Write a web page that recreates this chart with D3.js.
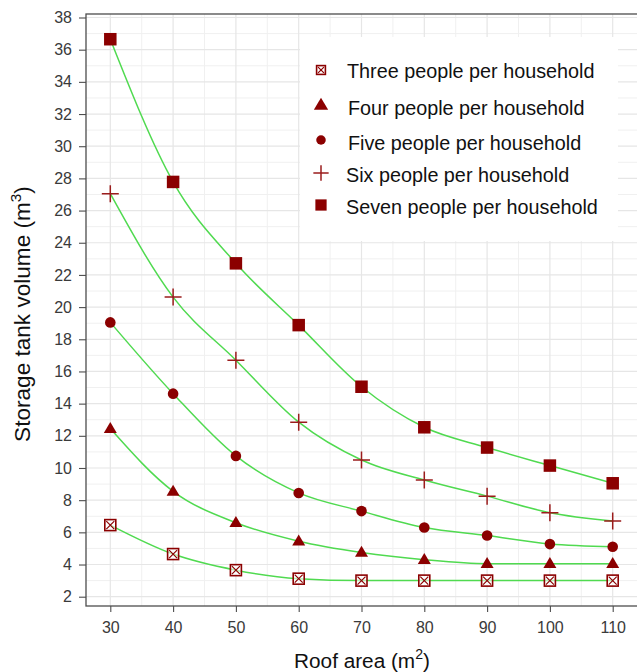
<!DOCTYPE html>
<html>
<head>
<meta charset="utf-8">
<script src="https://cdn.jsdelivr.net/npm/d3@7"></script>
<style>
html,body{margin:0;padding:0;background:#fff;}
svg{display:block;}
text{font-family:"Liberation Sans", Arial, sans-serif;}
</style>
</head>
<body>
<svg id="chart" width="637" height="672"></svg>
<script>
// ---- data ----
const roofArea = [30, 40, 50, 60, 70, 80, 90, 100, 110];
const seriesNames = [
  "Three people per household",
  "Four people per household",
  "Five people per household",
  "Six people per household",
  "Seven people per household"
];
const threePeople = [6.45, 4.65, 3.65, 3.12, 3.0, 3.0, 3.0, 3.0, 3.0];
const fourPeople  = [12.45, 8.55, 6.6, 5.45, 4.75, 4.3, 4.05, 4.05, 4.05];
const fivePeople  = [19.05, 14.62, 10.75, 8.45, 7.32, 6.3, 5.8, 5.27, 5.1];
const sixPeople   = [27.05, 20.62, 16.7, 12.85, 10.5, 9.25, 8.25, 7.22, 6.7];
const sevenPeople = [36.65, 27.78, 22.72, 18.88, 15.05, 12.53, 11.27, 10.15, 9.05];
const xTicks = [30, 40, 50, 60, 70, 80, 90, 100, 110];
const yTicks = [2,4,6,8,10,12,14,16,18,20,22,24,26,28,30,32,34,36,38];

const seriesValues = [threePeople, fourPeople, fivePeople, sixPeople, sevenPeople];
const shapes = ["squareX", "triangle", "circle", "plus", "square"];

(function () {
// ---- layout ----
const svg = d3.select("#chart");
const pL = 86, pT = 14, pB = 606, pR = 640;
const x = d3.scaleLinear().domain([30, 110]).range([110.3, 612.7]);
const y = d3.scaleLinear().domain([2, 38]).range([596.7, 17.5]);

const red = "#8b0000";
const green = "#50da50";

// grid
const g = svg.append("g");
const xMinor = d3.range(25, 120, 10);
const yMinor = d3.range(1, 40, 2);
g.selectAll(".xm").data(xMinor.filter(v => x(v) > pL && x(v) < pR)).enter().append("line")
  .attr("x1", d => x(d)).attr("x2", d => x(d)).attr("y1", pT).attr("y2", pB)
  .attr("stroke", "#f0f0f0").attr("stroke-width", 1);
g.selectAll(".ym").data(yMinor.filter(v => y(v) > pT && y(v) < pB)).enter().append("line")
  .attr("y1", d => y(d)).attr("y2", d => y(d)).attr("x1", pL).attr("x2", pR)
  .attr("stroke", "#f0f0f0").attr("stroke-width", 1);
g.selectAll(".xM").data(xTicks).enter().append("line")
  .attr("x1", d => x(d)).attr("x2", d => x(d)).attr("y1", pT).attr("y2", pB)
  .attr("stroke", "#e6e6e6").attr("stroke-width", 1.2);
g.selectAll(".yM").data(yTicks).enter().append("line")
  .attr("y1", d => y(d)).attr("y2", d => y(d)).attr("x1", pL).attr("x2", pR)
  .attr("stroke", "#e6e6e6").attr("stroke-width", 1.2);

// axes
const xAxis = d3.axisBottom(x).tickValues(xTicks).tickSize(6).tickPadding(10).tickFormat(d3.format("d"));
const yAxis = d3.axisLeft(y).tickValues(yTicks).tickSize(7).tickPadding(7).tickFormat(d3.format("d"));
const xa = svg.append("g").attr("transform", `translate(0,${pB})`).call(xAxis);
const ya = svg.append("g").attr("transform", `translate(${pL},0)`).call(yAxis);
[xa, ya].forEach(a => {
  a.select(".domain").remove();
  a.selectAll(".tick line").attr("stroke", "#4d4d4d").attr("stroke-width", 1.1);
  a.selectAll(".tick text").attr("fill", "#3a3a3a").style("font-size", "16px")
    .style("font-family", "'Liberation Sans', Arial, sans-serif");
});

// panel border
svg.append("rect").attr("x", pL).attr("y", pT).attr("width", pR + 10 - pL).attr("height", pB - pT)
  .attr("fill", "none").attr("stroke", "#4d4d4d").attr("stroke-width", 1.3);

// marker drawing
function drawMarker(sel, shape, cx, cy, s) {
  const k = s || 1;
  if (shape === "square") {
    const w = 12.5 * k;
    sel.append("rect").attr("x", cx - w/2).attr("y", cy - w/2).attr("width", w).attr("height", w).attr("fill", red);
  } else if (shape === "squareX") {
    const w = 11 * k;
    sel.append("rect").attr("x", cx - w/2).attr("y", cy - w/2).attr("width", w).attr("height", w)
      .attr("fill", "#fff").attr("fill-opacity", 0.6).attr("stroke", red).attr("stroke-width", 1.6);
    const h = w/2 - 1.5;
    sel.append("path").attr("d", `M${cx-h},${cy-h}L${cx+h},${cy+h}M${cx-h},${cy+h}L${cx+h},${cy-h}`)
      .attr("stroke", red).attr("stroke-width", 1.2).attr("fill", "none");
  } else if (shape === "triangle") {
    const w = 13 * k, hgt = 11 * k;
    sel.append("path").attr("d", `M${cx},${cy - hgt*0.6}L${cx + w/2},${cy + hgt*0.4}L${cx - w/2},${cy + hgt*0.4}Z`).attr("fill", red);
  } else if (shape === "circle") {
    sel.append("circle").attr("cx", cx).attr("cy", cy).attr("r", 5.3 * k).attr("fill", red);
  } else if (shape === "plus") {
    const a = 8.5 * k;
    sel.append("path").attr("d", `M${cx-a},${cy}L${cx+a},${cy}M${cx},${cy-a}L${cx},${cy+a}`)
      .attr("stroke", "#9b1c1c").attr("stroke-width", 1.5).attr("fill", "none");
  }
}

// lines and points
const line = d3.line().x(d => x(d[0])).y(d => y(d[1])).curve(d3.curveMonotoneX);
const plot = svg.append("g");
seriesValues.forEach((vals, i) => {
  const pts = roofArea.map((a, j) => [a, vals[j]]);
  plot.append("path").datum(pts).attr("d", line).attr("fill", "none")
    .attr("stroke", green).attr("stroke-width", 1.5);
});
seriesValues.forEach((vals, i) => {
  const gp = plot.append("g");
  roofArea.forEach((a, j) => drawMarker(gp, shapes[i], x(a), y(vals[j]), 1));
});

// fit a text element's font size so its width matches a target
function fitSize(textSel, base, target) {
  const w = textSel.node().getBBox().width;
  return w > 0 ? base * target / w : base;
}

// legend
const lg = svg.append("g");
lg.append("rect").attr("x", 300).attr("y", 37).attr("width", 318).attr("height", 204).attr("fill", "#fff");
const keyY = [70, 105, 140, 173, 205];
const textY = [71, 108, 143, 175, 207];
const textX = [347, 348, 348, 346, 346];
const legTexts = [];
seriesNames.forEach((name, i) => {
  drawMarker(lg, shapes[i], 321, keyY[i], i === 0 ? 0.8 : (i === 1 ? 1.1 : 0.9));
  legTexts.push(lg.append("text").attr("x", textX[i]).attr("y", textY[i]).attr("dy", "0.35em")
    .style("font-size", "19px").attr("fill", "#111").text(name));
});
const legSize = fitSize(legTexts[4], 19, 252);
legTexts.forEach(t => t.style("font-size", legSize + "px"));

// axis titles
const xt = svg.append("text").attr("x", 362).attr("y", 668).attr("text-anchor", "middle")
  .style("font-size", "19px").attr("fill", "#111");
xt.append("tspan").text("Roof area (m");
const xs = xt.append("tspan").attr("dy", -8).style("font-size", "13px").text("2");
const xc = xt.append("tspan").attr("dy", 8).text(")");
const xSize = fitSize(xt, 19, 136);
xt.style("font-size", xSize + "px");
xs.style("font-size", (xSize * 0.68) + "px").attr("dy", -xSize * 0.42);
xc.attr("dy", xSize * 0.42);

const yt = svg.append("text").attr("transform", "translate(30,314) rotate(-90)").attr("text-anchor", "middle")
  .style("font-size", "19px").attr("fill", "#111");
yt.append("tspan").text("Storage tank volume (m");
const ys = yt.append("tspan").attr("dy", -8).style("font-size", "13px").text("3");
const yc = yt.append("tspan").attr("dy", 8).text(")");
const ySize = fitSize(yt, 19, 256);
yt.style("font-size", ySize + "px");
ys.style("font-size", (ySize * 0.68) + "px").attr("dy", -ySize * 0.42);
yc.attr("dy", ySize * 0.42);
})();
</script>
</body>
</html>
